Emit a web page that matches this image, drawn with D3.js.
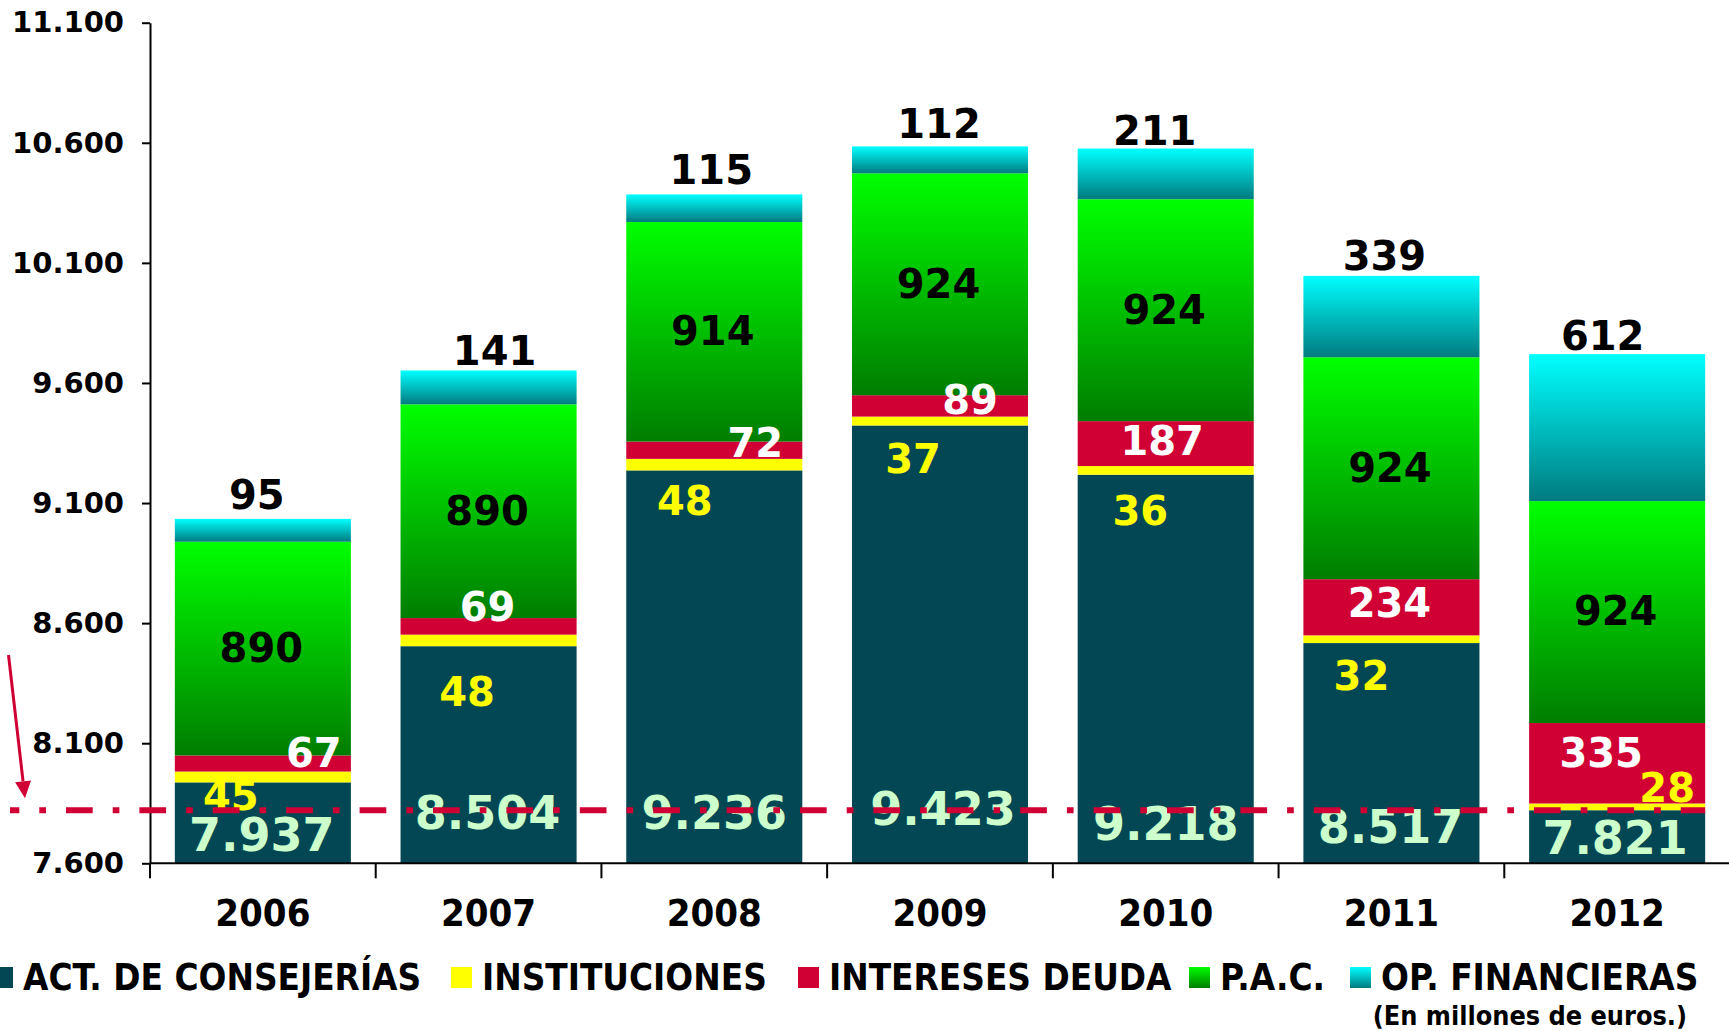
<!DOCTYPE html>
<html>
<head>
<meta charset="utf-8">
<script src="https://cdn.jsdelivr.net/npm/d3@7"></script>
<style>
  html, body { margin: 0; padding: 0; background: #ffffff; }
  svg { display: block; }
</style>
</head>
<body>
<svg id="chart" width="1729" height="1031"></svg>
<script>
// ---------------- DATA ----------------
const years = ["2006", "2007", "2008", "2009", "2010", "2011", "2012"];
const actValues = [7937, 8504, 9236, 9423, 9218, 8517, 7821];      // ACT. DE CONSEJERÍAS
const instValues = [45, 48, 48, 37, 36, 32, 28];                    // INSTITUCIONES
const interesesValues = [67, 69, 72, 89, 187, 234, 335];            // INTERESES DEUDA
const pacValues = [890, 890, 914, 924, 924, 924, 924];              // P.A.C.
const opValues = [95, 141, 115, 112, 211, 339, 612];                // OP. FINANCIERAS
const seriesKeys = ["act", "inst", "intereses", "pac", "op"];
const seriesNames = ["ACT. DE CONSEJERÍAS", "INSTITUCIONES", "INTERESES DEUDA", "P.A.C.", "OP. FINANCIERAS"];
const yTicks = [7600, 8100, 8600, 9100, 9600, 10100, 10600, 11100];
const yDomain = [7600, 11100];
const unitsNote = "(En millones de euros.)";

// ---------------- STYLE / LAYOUT ----------------
const fills = { act: "#024753", inst: "#ffff00", intereses: "#d00034", pac: "url(#gPac)", op: "url(#gOp)" };
const labelColors = { act: "#ccffcc", inst: "#ffff00", intereses: "#ffffff", pac: "#000000", op: "#000000" };
const labelNudge = {
  op:        { dx: [-6, 6, -3, -1, -11, -7, -14.5], dy: [-24, -20, -25, -23, -18, -20, -19] },
  pac:       { dx: [-1.5, -1.5, -1.5, -1.5, -1.5, -1.5, -1.5], dy: [-1, -1, -1, -1, -1, -1, -1] },
  intereses: { dx: [51, -1, 41, 30, -3.5, -2, -16], dy: [-11, -20, -7.5, -6, -3.5, -5, -10.5] },
  inst:      { dx: [-32, -21.5, -29.5, -27, -25.5, -30, 50], dy: [18.6, 50.8, 36, 37.6, 40.6, 36.3, -19.4] },
  act:       { dx: [-1, -1, 0, 3, 0, -1, -2], dy: [-29, -51, -51, -55, -40, -37, -26] }
};
const legendSwatchX = [-8, 451, 798, 1189, 1350];
const FONT = "'DejaVu Sans', Verdana, sans-serif";
const FONT_C = "'DejaVu Sans Condensed', 'DejaVu Sans', sans-serif";

const svg = d3.select("#chart");
const fmt = d3.formatLocale({ decimal: ",", thousands: ".", grouping: [3], currency: ["", " €"] }).format(",d");

const x = d3.scaleBand().domain(years).range([150, 1730]).paddingInner(0.22).paddingOuter(0.11);
const y = d3.scaleLinear().domain(yDomain).range([863.3, 22.7]).clamp(true);

// gradients
const defs = svg.append("defs");
function grad(id, top, bottom) {
  const g = defs.append("linearGradient").attr("id", id).attr("x1", 0).attr("y1", 0).attr("x2", 0).attr("y2", 1);
  g.append("stop").attr("offset", "0%").attr("stop-color", top);
  g.append("stop").attr("offset", "100%").attr("stop-color", bottom);
}
grad("gPac", "#00ff00", "#007d00");
grad("gOp", "#00ffff", "#007b80");

// stacked data
const table = years.map((yr, i) => ({
  year: yr, act: actValues[i], inst: instValues[i], intereses: interesesValues[i], pac: pacValues[i], op: opValues[i]
}));
const stacked = d3.stack().keys(seriesKeys)(table);

// bars
const barsG = svg.append("g");
stacked.forEach(layer => {
  barsG.append("g").selectAll("rect").data(layer).join("rect")
    .attr("x", d => x(d.data.year))
    .attr("width", x.bandwidth())
    .attr("y", d => y(d[1]))
    .attr("height", d => y(d[0]) - y(d[1]))
    .attr("fill", fills[layer.key]);
});

// axes
const yAxis = d3.axisLeft(y).tickValues(yTicks).tickFormat(fmt).tickSize(8).tickSizeOuter(0).tickPadding(18);
const yG = svg.append("g").attr("transform", "translate(150,0)").call(yAxis);
yG.selectAll("text").attr("font-family", FONT).attr("font-weight", "bold").attr("font-size", 29).attr("fill", "#000");
yG.selectAll("line, path").attr("stroke", "#000").attr("stroke-width", 2);

const base = y(yDomain[0]);
const step = x.step();
const boundaries = years.map(yr => x(yr) - (step - x.bandwidth()) / 2).concat([x(years[years.length - 1]) + x.bandwidth() + (step - x.bandwidth()) / 2]);
const xG = svg.append("g");
xG.append("line").attr("x1", 150).attr("x2", 1729).attr("y1", base).attr("y2", base).attr("stroke", "#000").attr("stroke-width", 2);
xG.selectAll("line.tk").data(boundaries).join("line").attr("class", "tk")
  .attr("x1", d => d).attr("x2", d => d).attr("y1", base).attr("y2", base + 15)
  .attr("stroke", "#000").attr("stroke-width", 2);
xG.selectAll("text").data(years).join("text")
  .attr("x", d => x(d) + x.bandwidth() / 2).attr("y", 912).attr("dy", "0.36em")
  .attr("text-anchor", "middle").attr("font-family", FONT_C).attr("font-weight", "bold").attr("font-size", 38)
  .text(d => d);

// value labels
const labelsG = svg.append("g");
stacked.forEach(layer => {
  const key = layer.key;
  labelsG.append("g").selectAll("text").data(layer).join("text")
    .attr("x", (d, i) => x(d.data.year) + x.bandwidth() / 2 + labelNudge[key].dx[i])
    .attr("y", (d, i) => {
      let anchor;
      if (key === "op") anchor = y(d[1]);
      else if (key === "act") anchor = base;
      else anchor = (y(d[0]) + y(d[1])) / 2;
      return anchor + labelNudge[key].dy[i];
    })
    .attr("dy", "0.36em")
    .attr("text-anchor", "middle")
    .attr("font-family", FONT).attr("font-weight", "bold")
    .attr("font-size", key === "act" ? 46 : 40)
    .attr("fill", labelColors[key])
    .text(d => fmt(d.data[key]));
});

// reference dash-dot line at the 2012 ACT level
const refY = y(actValues[actValues.length - 1]);
svg.append("line")
  .attr("x1", 10).attr("x2", x(years[years.length - 1]) + x.bandwidth())
  .attr("y1", refY).attr("y2", refY)
  .attr("stroke", "#d00034").attr("stroke-width", 6)
  .attr("stroke-dasharray", "26.7 20 6.7 20").attr("stroke-dashoffset", 17.4);

// arrow
const aStart = [8.5, 655], aTip = [25, refY - 12];
const vx = aTip[0] - aStart[0], vy = aTip[1] - aStart[1], len = Math.hypot(vx, vy);
const ux = vx / len, uy = vy / len, headL = 17, headW = 8;
const bc = [aTip[0] - ux * headL, aTip[1] - uy * headL];
svg.append("line").attr("x1", aStart[0]).attr("y1", aStart[1]).attr("x2", bc[0]).attr("y2", bc[1])
  .attr("stroke", "#d00034").attr("stroke-width", 3);
svg.append("path")
  .attr("d", `M${aTip[0]},${aTip[1]} L${bc[0] + uy * headW},${bc[1] - ux * headW} L${bc[0] - uy * headW},${bc[1] + ux * headW} Z`)
  .attr("fill", "#d00034");

// legend
const legG = svg.append("g");
seriesKeys.forEach((k, i) => {
  legG.append("rect").attr("x", legendSwatchX[i]).attr("y", 967).attr("width", 21).attr("height", 21).attr("fill", fills[k]);
  legG.append("text").attr("x", legendSwatchX[i] + 31).attr("y", 977).attr("dy", "0.36em")
    .attr("font-family", FONT_C).attr("font-weight", "bold").attr("font-size", 36.5)
    .text(seriesNames[i]);
});
svg.append("text").attr("x", 1687).attr("y", 1015.6).attr("dy", "0.36em").attr("text-anchor", "end")
  .attr("font-family", FONT_C).attr("font-weight", "bold").attr("font-size", 26.8)
  .text(unitsNote);
</script>
</body>
</html>
